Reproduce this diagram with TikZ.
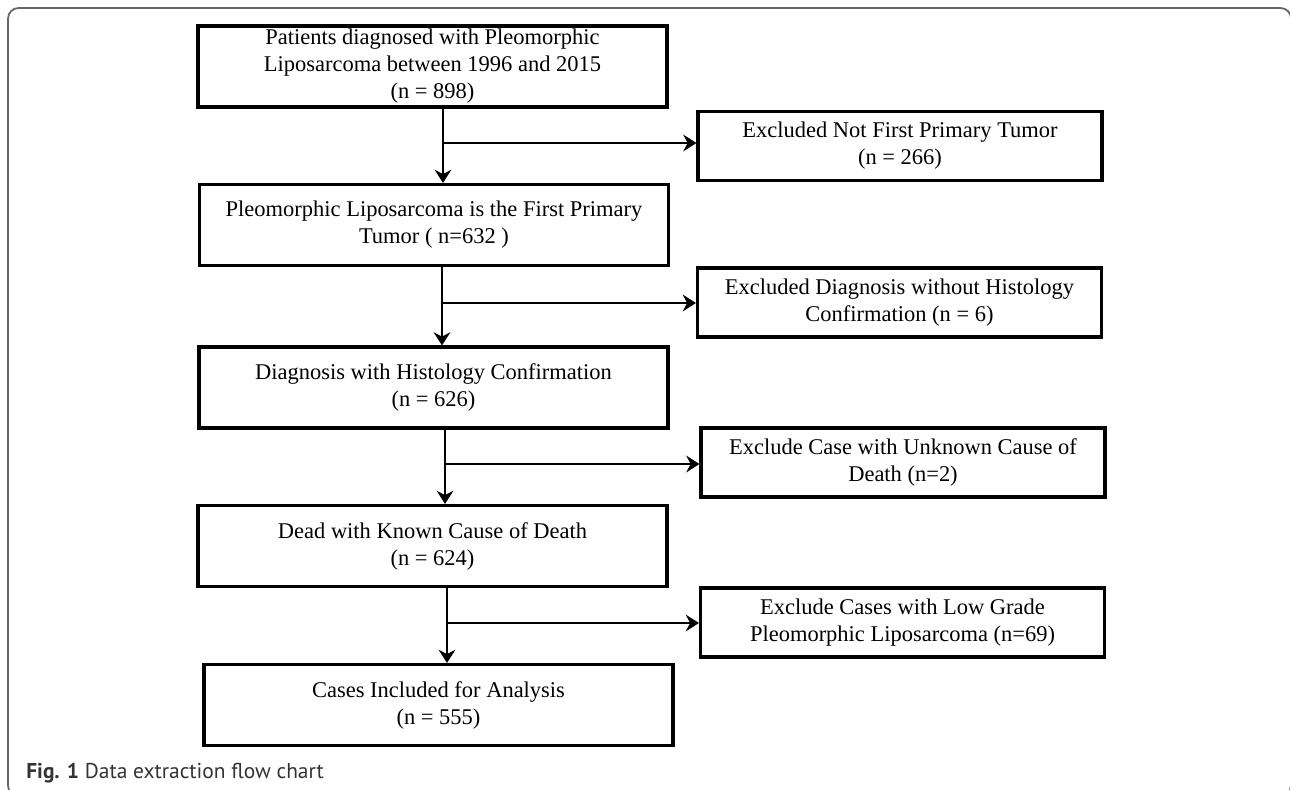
\documentclass[tikz,border=0pt]{standalone}
\usepackage{fontspec}
\setmainfont{Liberation Serif}
\newfontfamily\capfont{PT Sans}
\usetikzlibrary{arrows.meta}

\begin{document}
\begin{tikzpicture}[x=0.02cm, y=-0.02cm,
		mainbox/.style={draw, line width=1.8pt, minimum width=9.38cm, minimum height=1.62cm, inner sep=0pt, align=center, font=\fontsize{12.8}{15.4}\selectfont},
		sidebox/.style={draw, line width=1.8pt, minimum width=8.08cm, minimum height=1.38cm, inner sep=0pt, align=center, font=\fontsize{12.8}{15.4}\selectfont},
		arr/.style={line width=1.2pt, -{Stealth[length=7.5pt, width=9.5pt, inset=2.5pt]}}]
				\useasboundingbox (0,0) rectangle (1290,789);
				\begin{scope}
					\clip (0,0) rectangle (1290,789);
					\draw[line width=1pt, black!60, rounded corners=6pt] (8,8) rectangle (1291,796);
				\end{scope}
				
				% main column
				\node[mainbox] (b1) at (432.5,66.5) {Patients diagnosed with Pleomorphic\\Liposarcoma between 1996 and 2015\\(n = 898)};
				\node[mainbox] (b2) at (434,225) {Pleomorphic Liposarcoma is the First Primary\\Tumor ( n=632 )};
				\node[mainbox] (b3) at (433.5,387.5) {Diagnosis with Histology Confirmation\\(n = 626)};
				\node[mainbox] (b4) at (432.5,546) {Dead with Known Cause of Death\\(n = 624)};
				\node[mainbox] (b5) at (438.5,705) {Cases Included for Analysis\\(n = 555)};
				
				% excluded
				\node[sidebox] (r1) at (900,146) {Excluded Not First Primary Tumor\\(n = 266)};
				\node[sidebox] (r2) at (899.5,302.5) {Excluded Diagnosis without Histology\\Confirmation (n = 6)};
				\node[sidebox] (r3) at (903,462.5) {Exclude Case with Unknown Cause of\\Death (n=2)};
				\node[sidebox] (r4) at (902.5,622.5) {Exclude Cases with Low Grade\\Pleomorphic Liposarcoma (n=69)};
				
				\coordinate (j1) at (443,143);
				\coordinate (j2) at (442,303);
				\coordinate (j3) at (445,464);
				\coordinate (j4) at (447,623);
				
				\foreach \i/\k in {1/2,2/3,3/4,4/5} {
					\draw[arr] (b\i.south -| j\i) -- (b\k.north -| j\i);
					\draw[arr] (j\i) -- (r\i.west |- j\i);
				}
				
				\node[anchor=west, inner sep=0pt, text=black!80, font=\capfont\fontsize{12.2}{14}\selectfont] (cap) at (26,773) {\textbf{Fig. 1} Data extraction flow chart};
			\end{tikzpicture}
\end{document}
